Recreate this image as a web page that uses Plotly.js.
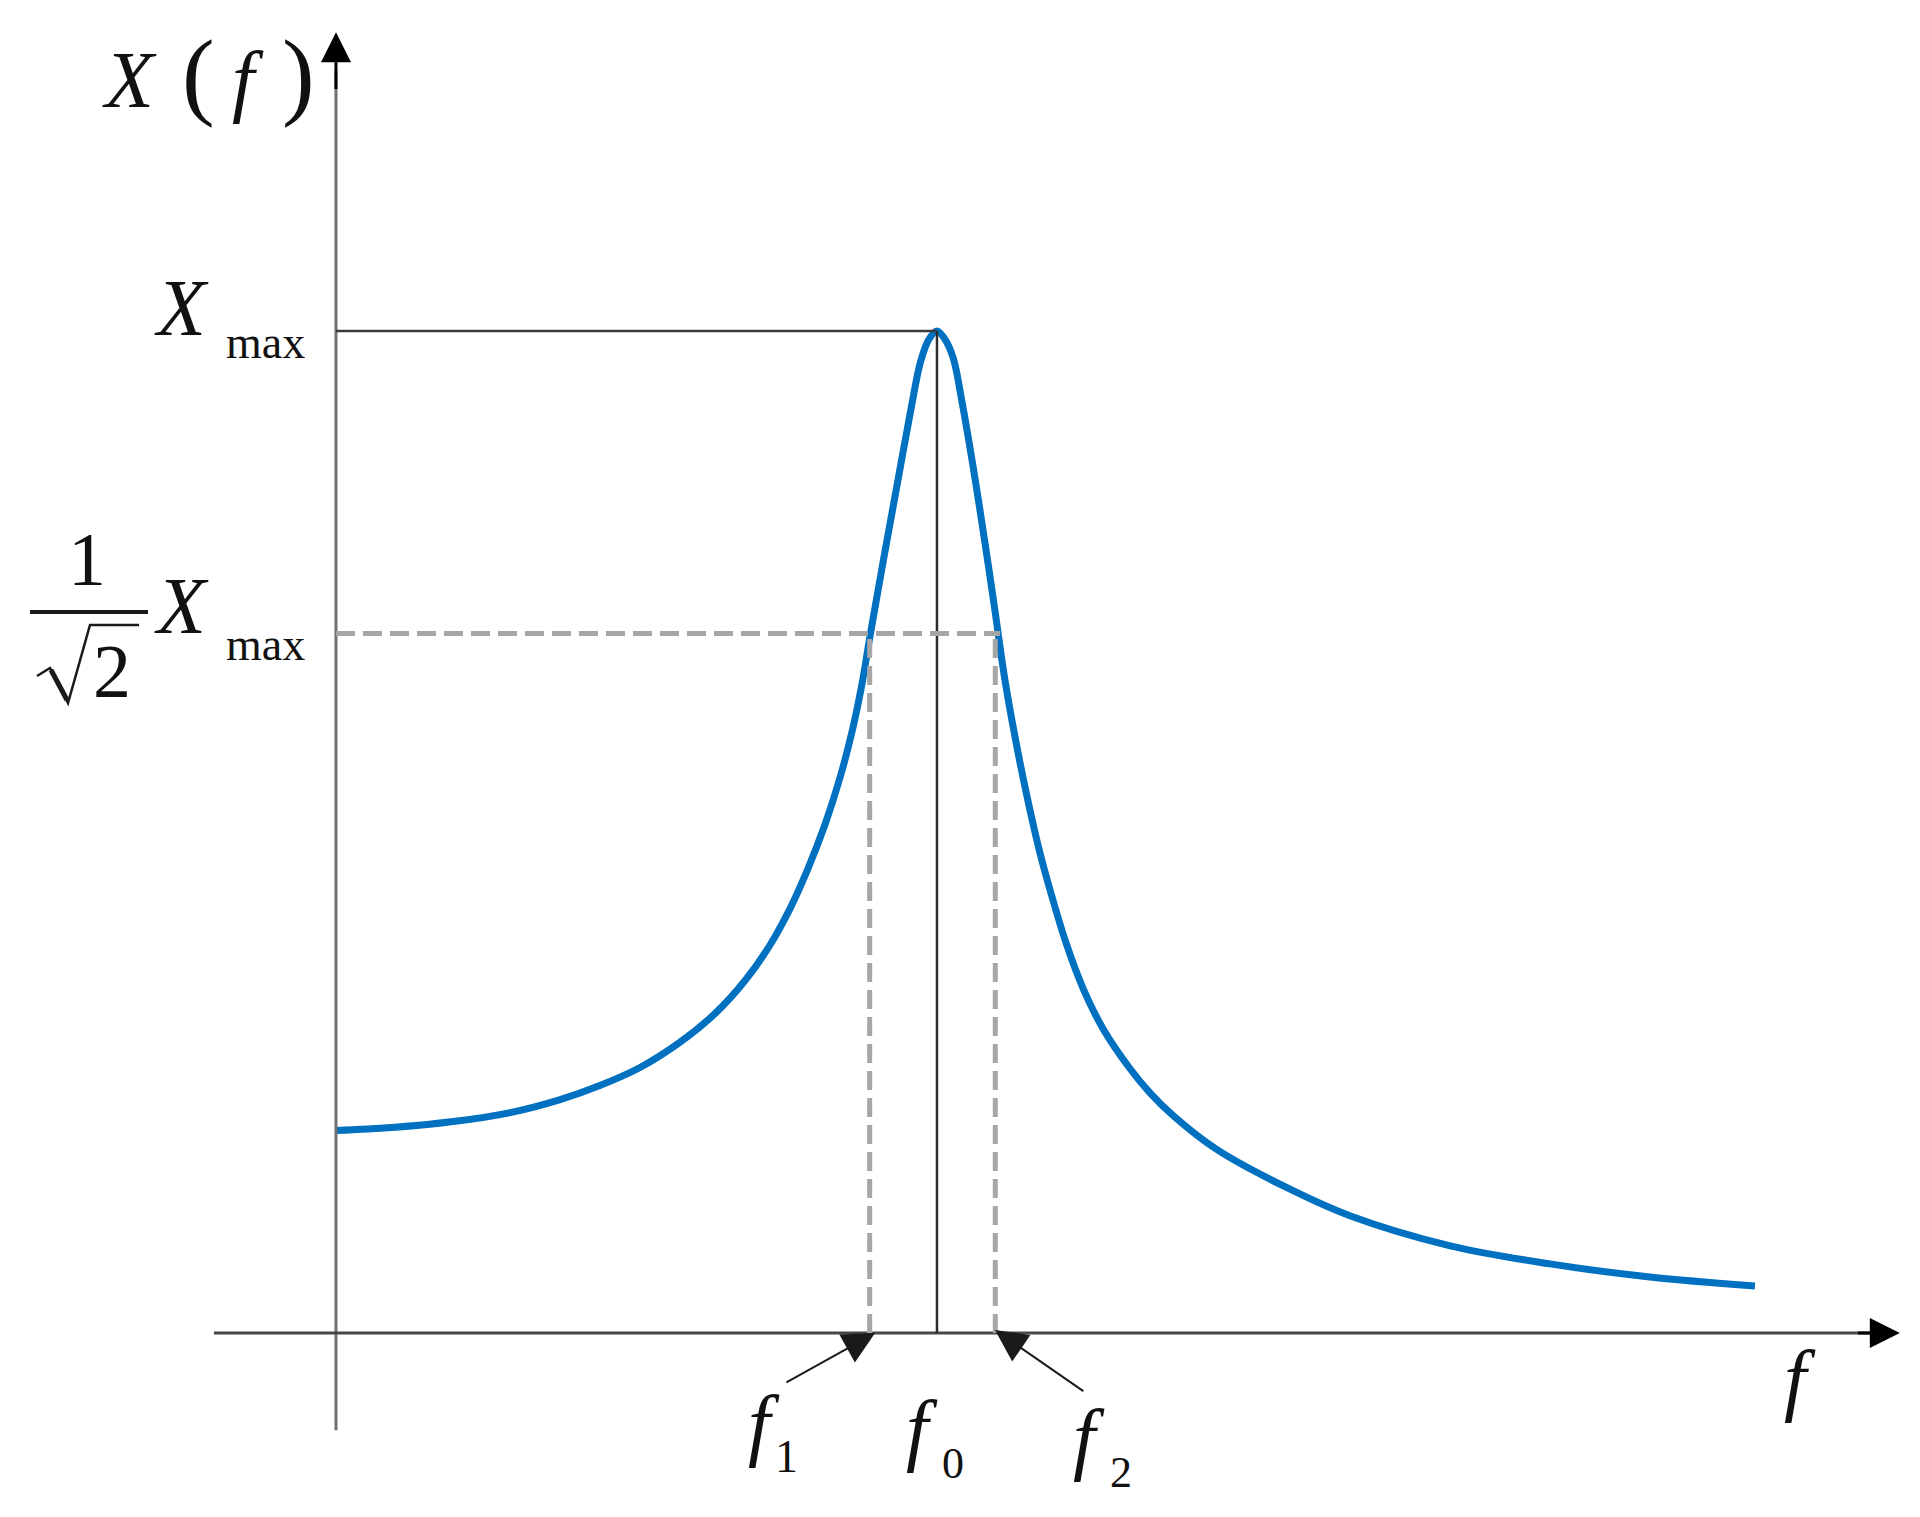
<!DOCTYPE html>
<html>
<head>
<meta charset="utf-8">
<script src="https://cdn.plot.ly/plotly-3.0.1.min.js"></script>
<style>
  html, body { margin: 0; padding: 0; background: #fff; }
  #chart { width: 1920px; height: 1517px; }
</style>
</head>
<body>
<div id="chart"></div>
<script>
// resonance curve (f relative to f0, X relative to Xmax)
var freq = [0, 0.093, 0.195, 0.290, 0.373, 0.439, 0.506, 0.572, 0.631, 0.681,
            0.722, 0.755, 0.785, 0.814, 0.839, 0.859, 0.875, 0.889, 0.912, 0.935,
            0.957, 0.973, 0.987, 1.000, 1.013, 1.027, 1.042, 1.060, 1.080, 1.095,
            1.113, 1.133, 1.150, 1.171, 1.193, 1.216, 1.243, 1.276, 1.321, 1.354,
            1.393, 1.466, 1.579, 1.687, 1.854, 2.020, 2.186, 2.361];
var amp  = [0.202, 0.205, 0.211, 0.220, 0.233, 0.247, 0.265, 0.290, 0.319, 0.352,
            0.387, 0.423, 0.463, 0.508, 0.555, 0.601, 0.647, 0.697, 0.775, 0.851,
            0.923, 0.970, 0.992, 1.000, 0.992, 0.973, 0.928, 0.865, 0.788, 0.727,
            0.652, 0.585, 0.535, 0.480, 0.432, 0.387, 0.344, 0.304, 0.264, 0.240,
            0.217, 0.183, 0.146, 0.117, 0.087, 0.069, 0.056, 0.047];

var f0 = 1.0, f1 = 0.888, f2 = 1.097;
var xMax = 1.0, halfPower = 0.698;

var W = 1920, H = 1517;
function px(v) { return v / W; }
function py(v) { return 1 - v / H; }

var serif = 'Liberation Serif, Times New Roman, serif';

var curve = {
  x: freq, y: amp,
  mode: 'lines',
  line: { color: '#0070c0', width: 7, shape: 'spline', smoothing: 1 },
  hoverinfo: 'skip'
};

var dashStyle = { color: '#a6a6a6', width: 5, dash: '19px,8px' };

// radical sign of sqrt(2), drawn in page pixels
var rad = [[37, 676], [50, 668], [68, 703], [90, 625], [139, 625]];
var radPath = rad.map(function (p, i) {
  return (i ? 'L' : 'M') + px(p[0]).toFixed(5) + ',' + py(p[1]).toFixed(5);
}).join(' ');

var shapes = [
  // axes
  { type: 'line', x0: 0, x1: 0, y0: -0.097, y1: 1.26, line: { color: '#707070', width: 3 } },
  { type: 'line', x0: -0.203, x1: 2.56, y0: 0, y1: 0, line: { color: '#474747', width: 3 } },
  // Xmax level and f0
  { type: 'line', x0: 0, x1: f0, y0: xMax, y1: xMax, line: { color: '#3c3c3c', width: 2.5 } },
  { type: 'line', x0: f0, x1: f0, y0: 0, y1: xMax, line: { color: '#2c2c2c', width: 2.5 } },
  // half power level
  { type: 'line', x0: 0, x1: 1.105, y0: halfPower, y1: halfPower, line: dashStyle },
  { type: 'line', x0: f1, x1: f1, y0: 0, y1: halfPower, line: dashStyle },
  { type: 'line', x0: f2, x1: f2, y0: 0, y1: halfPower, line: dashStyle },
  // fraction bar and radical of 1/sqrt(2)
  { type: 'line', xref: 'paper', yref: 'paper', x0: px(30), x1: px(148), y0: py(612), y1: py(612),
    line: { color: '#1a1a1a', width: 4 } },
  { type: 'path', xref: 'paper', yref: 'paper', path: radPath,
    line: { color: '#1a1a1a', width: 2.5 } },
  { type: 'line', xref: 'paper', yref: 'paper', x0: px(51), x1: px(67), y0: py(670), y1: py(700),
    line: { color: '#1a1a1a', width: 5 } }
];

function arrow(hx, hy, tx, ty, w, size, col) {
  return { x: hx, y: hy, ax: tx, ay: ty, xref: 'x', yref: 'y', axref: 'x', ayref: 'y',
           text: '', showarrow: true, arrowhead: 2, arrowsize: size, arrowwidth: w,
           arrowcolor: col, standoff: 0 };
}

// base is the text baseline in page pixels
function label(text, x, base, size, anchor, boxSize) {
  var b = boxSize || size;
  return { text: text, xref: 'paper', yref: 'paper', x: px(x), y: py(base - 0.3375 * b),
           xanchor: anchor || 'left', yanchor: 'middle', showarrow: false,
           font: { family: serif, size: size, color: '#111' } };
}

var annotations = [
  arrow(0, 1.298, 0, 1.24, 3, 2, '#000'),
  arrow(2.602, 0, 2.53, 0, 3, 2, '#000'),
  arrow(0.897, 0, 0.747, -0.050, 2, 3.2, '#1a1a1a'),
  arrow(1.0965, 0.003, 1.246, -0.059, 2, 3.2, '#1a1a1a'),

  label('<i>X</i>', 100, 107, 80),
  label('<span style="font-size:98px">(</span>', 180, 107, 98),
  label('<i>f</i>', 230, 107, 80),
  label('<span style="font-size:98px">)</span>', 280, 107, 98),

  label('<i>X</i>', 152, 335, 80),
  label('max', 224, 358, 46),
  label('<i>X</i>', 152, 633, 80),
  label('max', 224, 660, 46),
  label('1', 87, 585, 76, 'center'),
  label('2', 112, 697, 76, 'center'),

  label('<i>f</i>', 746, 1451, 80),
  label('1', 773, 1472, 46),
  label('<i>f</i>', 904, 1456, 80),
  label('0', 940, 1478, 44),
  label('<i>f</i>', 1071, 1465, 80),
  label('2', 1108, 1487, 44),
  label('<i>f</i>', 1782, 1406, 80)
];

var layout = {
  width: W, height: H,
  margin: { l: 0, r: 0, t: 0, b: 0 },
  paper_bgcolor: '#fff', plot_bgcolor: '#fff',
  showlegend: false,
  xaxis: { range: [-0.559, 2.6356], visible: false, fixedrange: true },
  yaxis: { range: [-0.1836, 1.3303], visible: false, fixedrange: true },
  shapes: shapes,
  annotations: annotations
};

Plotly.newPlot('chart', [curve], layout, { staticPlot: true });
</script>
</body>
</html>
